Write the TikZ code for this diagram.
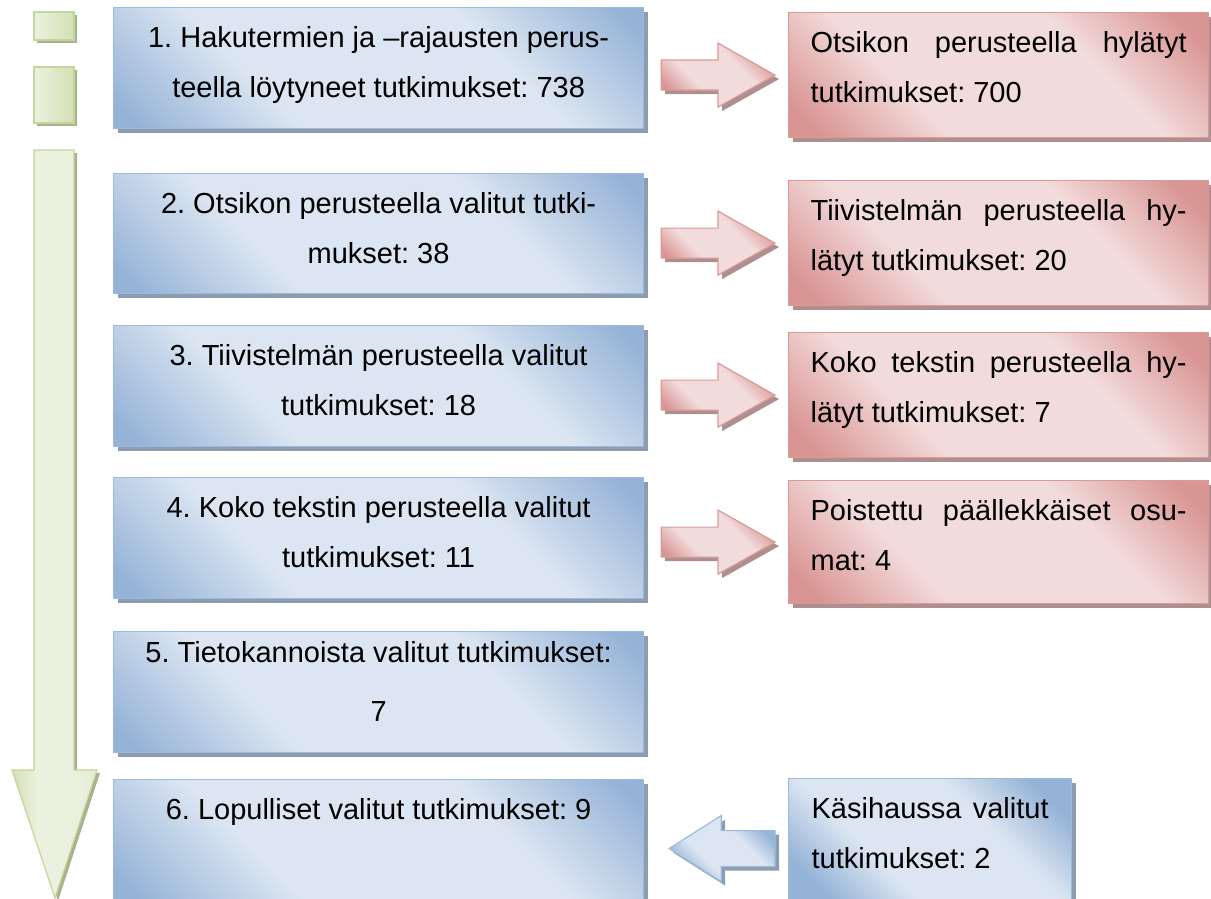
\documentclass[tikz,border=0pt]{standalone}
\usepackage{fontspec}
\setmainfont{Liberation Sans}
\usetikzlibrary{shadows,calc}
\definecolor{bdark}{HTML}{95B3D7}
\definecolor{blight}{HTML}{DCE6F2}
\definecolor{bborder}{HTML}{9DB9DC}
\definecolor{bshadow}{HTML}{8C9DB2}
\definecolor{rdark}{HTML}{D99594}
\definecolor{rlight}{HTML}{F2DCDB}
\definecolor{rborder}{HTML}{DA9A98}
\definecolor{rshadow}{HTML}{AE8E8E}
\definecolor{gdark}{HTML}{D3E0B5}
\definecolor{glight}{HTML}{EBF1DE}
\definecolor{gborder}{HTML}{C3D69B}
\definecolor{gshadow}{HTML}{A6B38E}
\pgfdeclarehorizontalshading{bshade}{100bp}{color(0bp)=(bdark); color(30bp)=(bdark); color(41bp)=(blight); color(59bp)=(blight); color(70bp)=(bdark); color(100bp)=(bdark)}
\pgfdeclarehorizontalshading{rshade}{100bp}{color(0bp)=(rdark); color(30bp)=(rdark); color(41bp)=(rlight); color(59bp)=(rlight); color(70bp)=(rdark); color(100bp)=(rdark)}
\pgfdeclarehorizontalshading{gshade}{100bp}{color(0bp)=(gdark); color(25bp)=(gdark); color(40bp)=(glight); color(58bp)=(glight); color(75bp)=(glight!80!gdark); color(100bp)=(glight!80!gdark)}
\frenchspacing
\newcommand\btxt[3]{\parbox[c][#1][t]{530pt}{\centering\rule{0pt}{40pt}#2\\#3}}
\newcommand\btxtone[2]{\parbox[c][#1][t]{530pt}{\centering\rule{0pt}{40pt}#2}}
\newcommand\rtxt[4]{\parbox[c][#1][t]{#2}{\raggedright\rule{0pt}{40pt}\makebox[\linewidth][s]{#3}\\#4}}
\newcommand\rightarr[3]{%
  \path[#1] let \p1=(#2.east), \p2=(#3.west) in
    (\x1+17pt,\y2+15pt) -- (\x2-70pt,\y2+15pt) -- (\x2-70pt,\y2+32pt) -- (\x2-13pt,\y2)
    -- (\x2-70pt,\y2-32pt) -- (\x2-70pt,\y2-15pt) -- (\x1+17pt,\y2-15pt) -- cycle;}
\newcommand\leftarr[3]{%
  \path[#1] let \p1=(#2.west), \p2=(#3.east) in
    (\x1-13pt,\y1+9pt) -- (\x2+77pt,\y1+9pt) -- (\x2+77pt,\y1+24pt) -- (\x2+25pt,\y1-9pt)
    -- (\x2+77pt,\y1-42pt) -- (\x2+77pt,\y1-27pt) -- (\x1-13pt,\y1-27pt) -- cycle;}
\tikzset{
  shadowB/.style={drop shadow={shadow xshift=4pt, shadow yshift=-4pt, fill=bshadow, opacity=1}},
  shadowR/.style={drop shadow={shadow xshift=4pt, shadow yshift=-4pt, fill=rshadow, opacity=1}},
  shadowG/.style={drop shadow={shadow xshift=3pt, shadow yshift=-3pt, fill=gshadow, opacity=1}},
  diagfill/.style={path picture={
    \shade[shading=#1, shading angle=45]
      let \p1=(path picture bounding box.south west), \p2=(path picture bounding box.north east),
          \n1={(\x2-\x1)/2}, \n2={(\x1+\x2)/2}, \n3={(\y1+\y2)/2} in
      (\n2-\n1,\n3-\n1) rectangle (\n2+\n1,\n3+\n1);}},
  bluefill/.style={fill=blight, diagfill=bshade},
  redfill/.style={fill=rlight, diagfill=rshade},
  bluebox/.style={draw=bborder, line width=1.2pt, inner sep=0pt, anchor=north west, bluefill, shadowB},
  redbox/.style={draw=rborder, line width=1.2pt, inner ysep=0pt, inner xsep=22pt, anchor=north west, redfill, shadowR},
  handbox/.style={draw=bborder, line width=1.2pt, inner ysep=0pt, inner xsep=23pt, anchor=north west, bluefill, shadowB},
  redarrow/.style={draw=rborder, line width=1.2pt, redfill, shadowR},
  bluearrow/.style={draw=bborder, line width=1.2pt, bluefill, shadowB},
  greenshape/.style={draw=gborder, line width=1.2pt, left color=glight, right color=gdark, shadowG},
  greenarrow/.style={draw=gborder, line width=1.2pt, shading=gshade, shadowG}
}
\begin{document}
\begin{tikzpicture}[x=1pt,y=-1pt, every node/.style={font=\fontsize{29pt}{50pt}\selectfont}]
\useasboundingbox (0,0) rectangle (1211,899);
% green progress bar
\path[greenshape] (34,12) rectangle (74,40);
\path[greenshape] (34,67) rectangle (74,123);
\path[greenarrow] (34,150) -- (74,150) -- (74,770) -- (97,770) -- (55,898) -- (12,770) -- (34,770) -- cycle;
% blue boxes
\node[bluebox] (b1) at (113,7) {\btxt{121pt}{1. Hakutermien ja –rajausten perus-}{teella löytyneet tutkimukset: 738}};
\node[bluebox] (b2) at (113,173) {\btxt{120pt}{2. Otsikon perusteella valitut tutki-}{mukset: 38}};
\node[bluebox] (b3) at (113,325) {\btxt{121pt}{3. Tiivistelmän perusteella valitut}{tutkimukset: 18}};
\node[bluebox] (b4) at (113,477) {\btxt{121pt}{4. Koko tekstin perusteella valitut}{tutkimukset: 11}};
\node[bluebox] (b5) at (113,631) {\parbox[c][121pt][t]{530pt}{\centering\rule{0pt}{31pt}5. Tietokannoista valitut tutkimukset:\\[9pt]7}};
\node[bluebox] (b6) at (113,779) {\btxtone{122pt}{6. Lopulliset valitut tutkimukset: 9}};
% red boxes
\node[redbox] (r1) at (788,12) {\rtxt{125pt}{376pt}{Otsikon perusteella hylätyt}{tutkimukset: 700}};
\node[redbox] (r2) at (788,180) {\rtxt{125pt}{376pt}{Tiivistelmän perusteella hy-}{lätyt tutkimukset: 20}};
\node[redbox] (r3) at (788,332) {\rtxt{125pt}{376pt}{Koko tekstin perusteella hy-}{lätyt tutkimukset: 7}};
\node[redbox] (r4) at (788,480) {\rtxt{123pt}{376pt}{Poistettu päällekkäiset osu-}{mat: 4}};
\node[handbox] (k) at (788,778) {\rtxt{122pt}{237pt}{Käsihaussa valitut}{tutkimukset: 2}};
% block arrows
\rightarr{redarrow}{b1}{r1}
\rightarr{redarrow}{b2}{r2}
\rightarr{redarrow}{b3}{r3}
\rightarr{redarrow}{b4}{r4}
\leftarr{bluearrow}{k}{b6}
\end{tikzpicture}
\end{document}
